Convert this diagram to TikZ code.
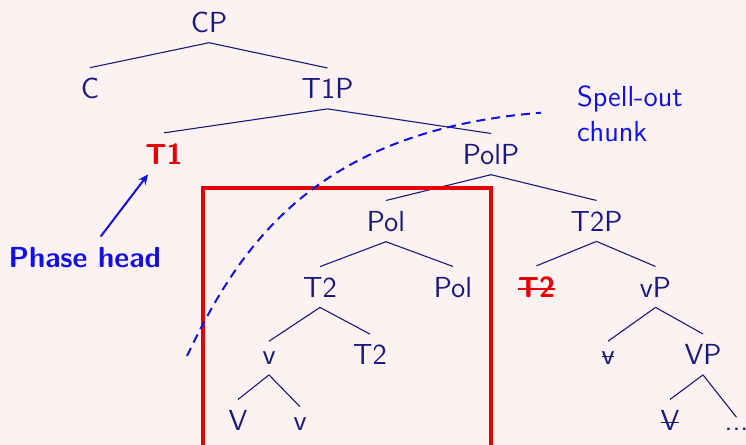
\documentclass[tikz,border=0pt]{standalone}
\usepackage{fontspec}
\usetikzlibrary{arrows.meta}
\definecolor{treeblue}{RGB}{25,25,125}
\definecolor{notered}{RGB}{232,0,0}
\definecolor{noteblue}{RGB}{15,15,230}
\definecolor{slidebg}{RGB}{253,242,242}
\newcommand\treefont{\sffamily\fontsize{14.5}{17.5}\selectfont}
% struck-through text: the word, with a thin rule across it
\newsavebox\strikebox
\newcommand\strikeout[1]{\sbox\strikebox{#1}%
  \rlap{\usebox\strikebox}\rule[0.55ex]{\wd\strikebox}{0.6pt}}
\begin{document}
\begin{tikzpicture}[x=0.5pt,y=-0.5pt,
  every node/.style={font=\treefont, inner xsep=2pt, inner ysep=5pt,
                     text=treeblue, anchor=base},
  edge/.style={draw=treeblue, line width=0.55pt},
  head/.style={text=notered, font=\treefont\bfseries},
  note/.style={text=noteblue},
  notebold/.style={text=noteblue, font=\treefont\bfseries}]

\useasboundingbox (0,0) rectangle (746,445);
\fill[slidebg] (0,0) rectangle (746,445);
\clip (0,0) rectangle (746,445);

% tree nodes, placed on their baselines
\node (CP)   at (209,32)      {CP};
\node (C)    at (90,98.5)     {C};
\node (T1P)  at (327.5,98.5)  {T1P};
\node[head] (T1) at (164,164) {T1};
\node (PolP) at (491,164)     {PolP};
\node (Pol)  at (386,231)     {Pol};
\node (T2P)  at (596.5,231)   {T2P};
\node (T2)   at (320,297)     {T2};
\node (Polh) at (453,297)     {Pol};
\node[head] (T2x) at (536.5,297) {\strikeout{T2}};
\node (vP)   at (655.5,297)   {vP};
\node (v)    at (269,364.5)   {v};
\node (T2h)  at (370,364.5)   {T2};
\node (vx)   at (608,364.5)   {\strikeout{v}};
\node (VP)   at (703,364.5)   {VP};
\node (V)    at (238,430)     {V};
\node (vh)   at (300,430)     {v};
\node (Vx)   at (670,430)     {\strikeout{V}};
\node (dots) at (736.5,430)   {...};

% branches
\foreach \p/\c in {CP/C, CP/T1P, T1P/T1, T1P/PolP, PolP/Pol, PolP/T2P,
                   Pol/T2, Pol/Polh, T2P/T2x, T2P/vP, T2/v, T2/T2h,
                   vP/vx, vP/VP, v/V, v/vh, VP/Vx, VP/dots}
  \draw[edge] (\p.south) -- (\c.north);

% the spelled-out chunk
\draw[notered, line width=1.75pt] (203,188) rectangle (491,470);

% spell-out boundary
\coordinate (cutlo) at (187,356);
\coordinate (cuthi) at (541,112.7);
\draw[noteblue, line width=1pt, dash pattern=on 4.5pt off 3pt]
  (cutlo) .. controls (240.6,243.9) and (316.7,130.6) .. (cuthi);

% annotations (base anchor sits on the last line)
\node[note, anchor=base west, align=left, inner sep=0pt] (spell)
  at (576.7,141.5) {Spell-out\\chunk};
\node[notebold] (phase) at (84.7,267) {Phase head};
\draw[noteblue, line width=1pt, -{Stealth[length=5pt,width=4.5pt]}]
  ([xshift=8pt]phase.north) -- ([xshift=-8pt]T1.south);
\end{tikzpicture}
\end{document}
